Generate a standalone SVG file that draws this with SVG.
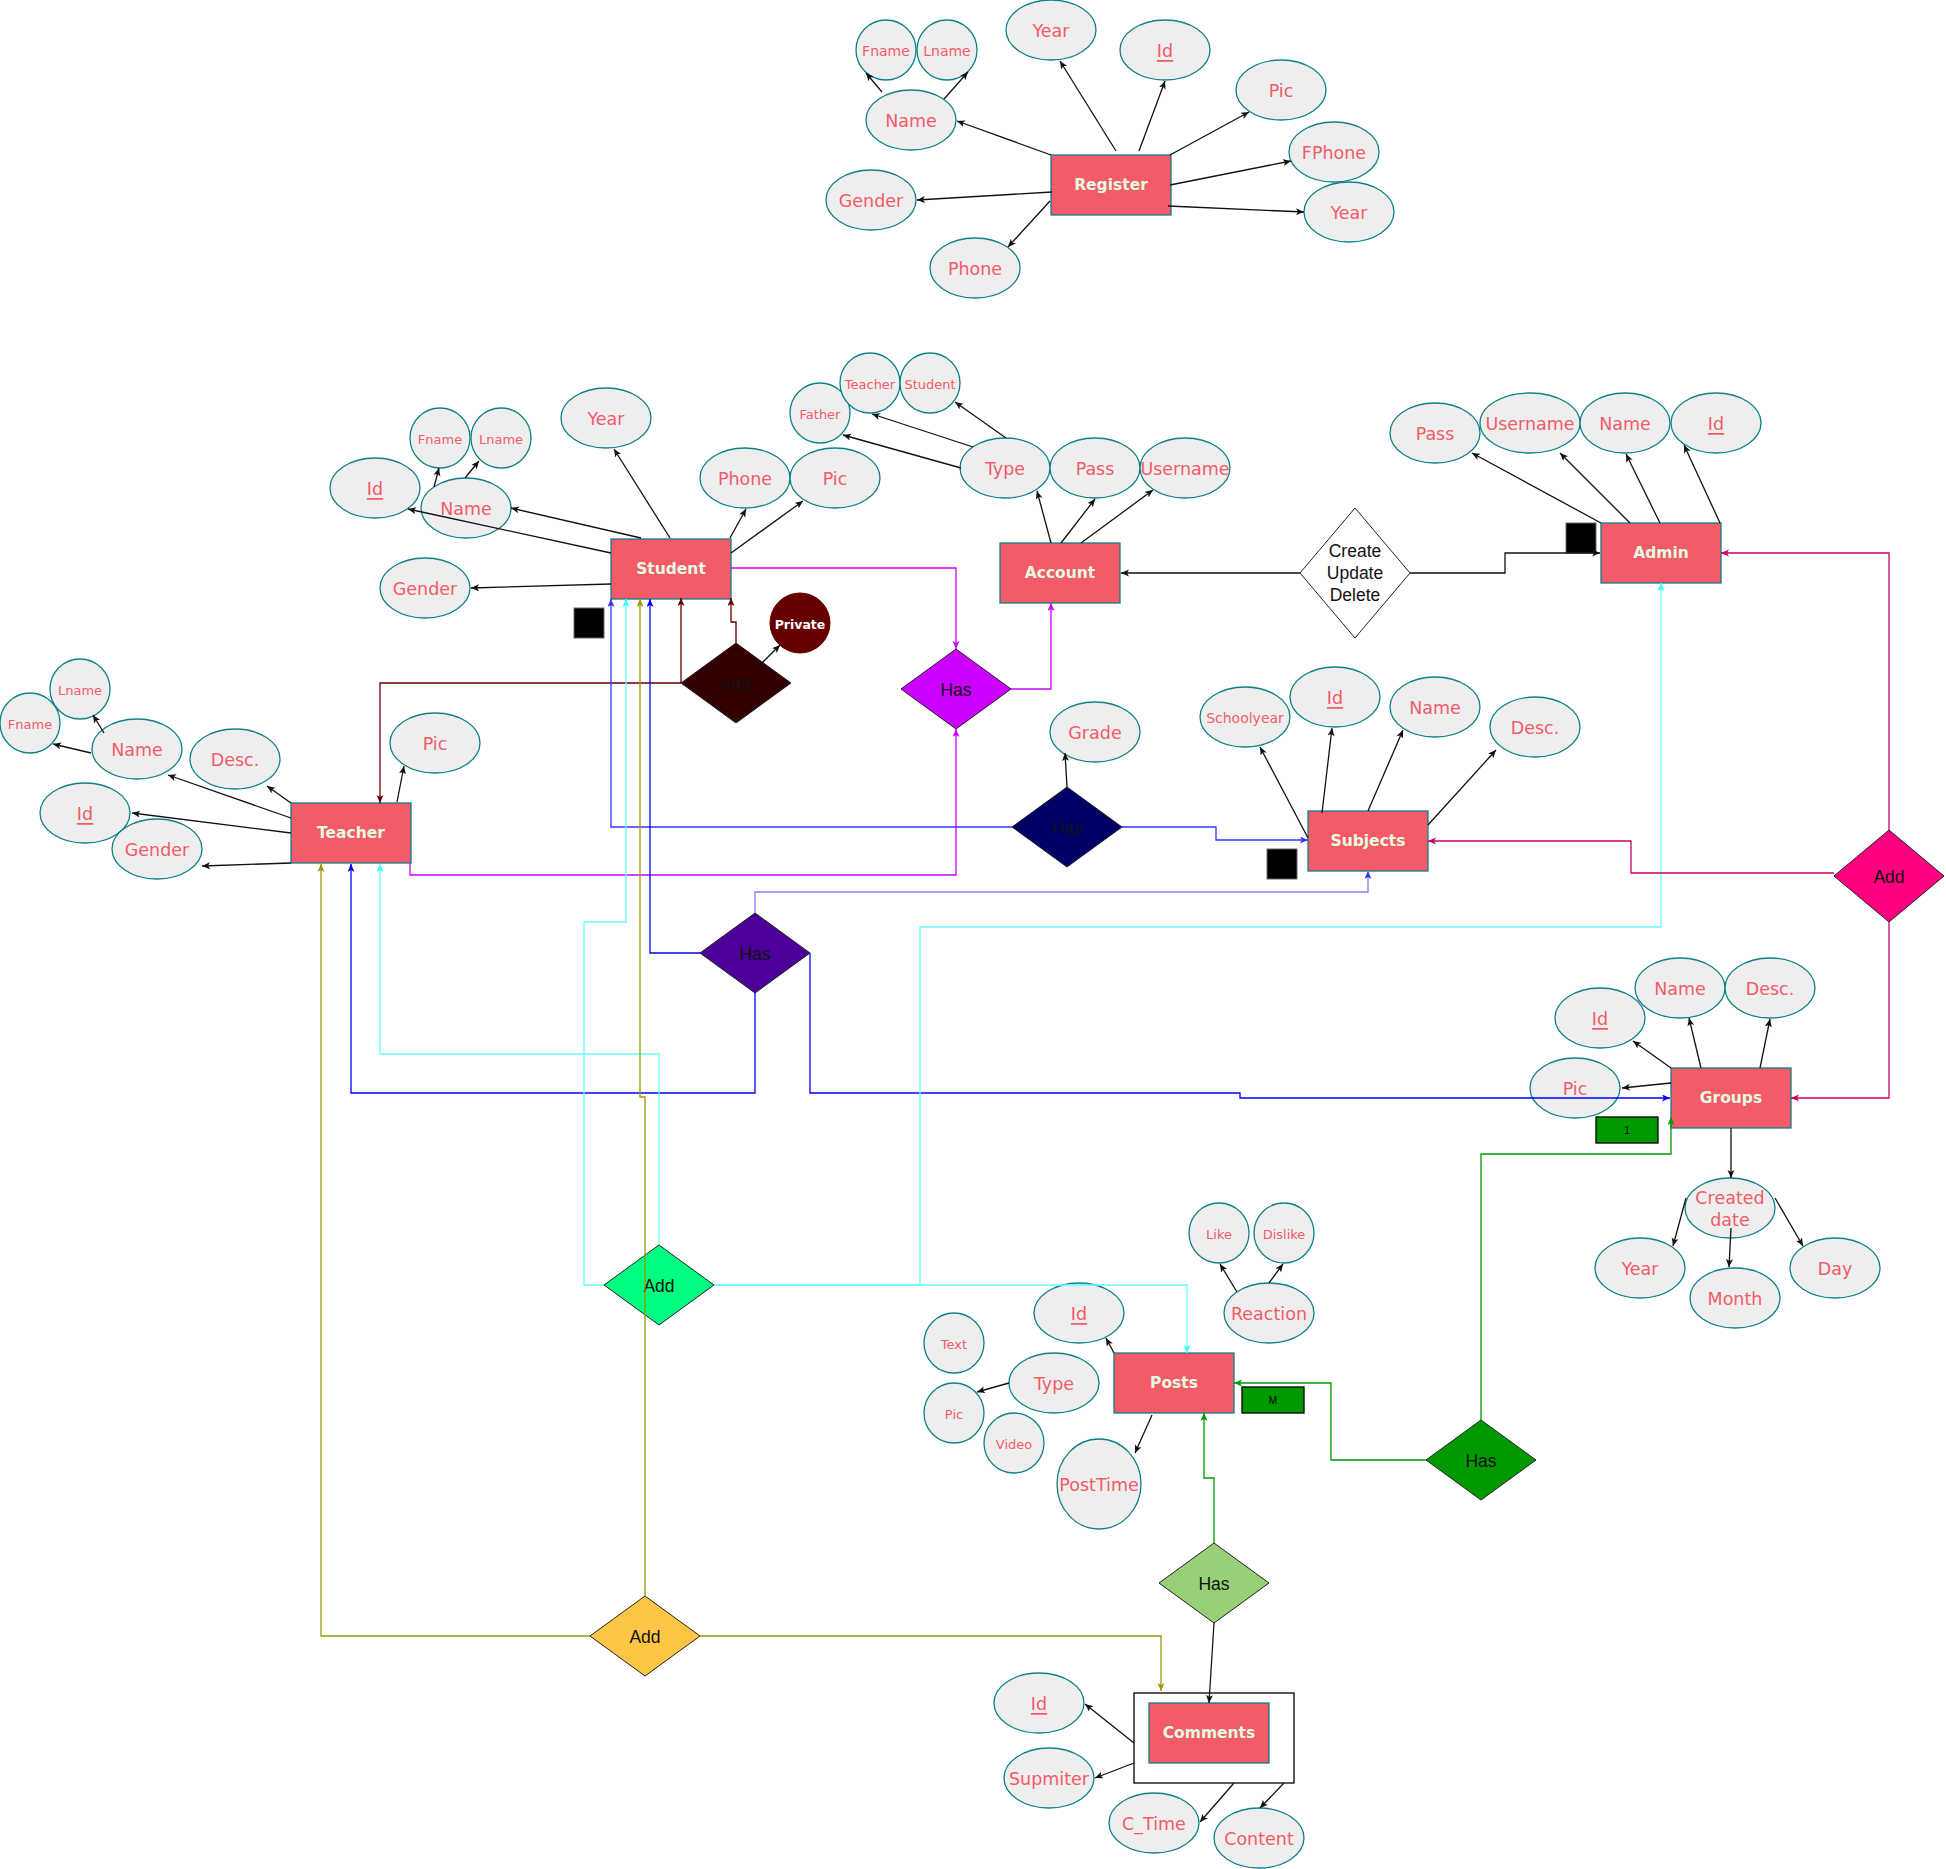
<svg xmlns="http://www.w3.org/2000/svg" width="1946" height="1869" viewBox="0 0 1946 1869">
<style>
.at ellipse{fill:#EEEEEE;stroke:#0E8088;stroke-width:1.3}
.at text{fill:#F45B69;font-family:"DejaVu Sans",Verdana,sans-serif;font-size:17.5px;text-anchor:middle;dominant-baseline:central}
.at text.s{font-size:14px}
.at text.xs{font-size:13px}
.at text.u{text-decoration:underline}
.en rect{fill:#F45B69;stroke:#0E8088;stroke-width:1.3}
.en text{fill:#E4FDE1;font-family:"DejaVu Sans",Verdana,sans-serif;font-size:15.5px;font-weight:bold;text-anchor:middle;dominant-baseline:central}
.rel polygon{stroke:#222;stroke-width:1}
.rel text{fill:#111;font-family:"Liberation Sans",Arial,sans-serif;font-size:17.5px;text-anchor:middle;dominant-baseline:central}
.sq{fill:#000;stroke:#666;stroke-width:1}
.lbl rect{fill:#009900;stroke:#000;stroke-width:1.3}
.lbl text{fill:#000;font-family:"Liberation Sans",Arial,sans-serif;font-size:10px;text-anchor:middle;dominant-baseline:central}
.cn path{fill:none;stroke-width:1.3}
.k{stroke:#111}
.mg{stroke:#CC00FF}
.mr{stroke:#660000}
.b3{stroke:#3333FF}
.b0{stroke:#0000FF}
.bl{stroke:#8080FF;stroke-width:2}
.cy{stroke:#66FFFF}
.ol{stroke:#999900}
.pk{stroke:#CC0066}
.gr{stroke:#009900}
</style>
<defs>
<marker id="aK" markerUnits="userSpaceOnUse" markerWidth="9" markerHeight="8" refX="8" refY="3.5" orient="auto"><path d="M0,0 L8,3.5 L0,7 L2,3.5 Z" fill="#111"/></marker>
<marker id="aMg" markerUnits="userSpaceOnUse" markerWidth="9" markerHeight="8" refX="8" refY="3.5" orient="auto"><path d="M0,0 L8,3.5 L0,7 L2,3.5 Z" fill="#CC00FF"/></marker>
<marker id="aMr" markerUnits="userSpaceOnUse" markerWidth="9" markerHeight="8" refX="8" refY="3.5" orient="auto"><path d="M0,0 L8,3.5 L0,7 L2,3.5 Z" fill="#660000"/></marker>
<marker id="aB3" markerUnits="userSpaceOnUse" markerWidth="9" markerHeight="8" refX="8" refY="3.5" orient="auto"><path d="M0,0 L8,3.5 L0,7 L2,3.5 Z" fill="#3333FF"/></marker>
<marker id="aB0" markerUnits="userSpaceOnUse" markerWidth="9" markerHeight="8" refX="8" refY="3.5" orient="auto"><path d="M0,0 L8,3.5 L0,7 L2,3.5 Z" fill="#0000FF"/></marker>
<marker id="aBl" markerUnits="userSpaceOnUse" markerWidth="9" markerHeight="8" refX="8" refY="3.5" orient="auto"><path d="M0,0 L8,3.5 L0,7 L2,3.5 Z" fill="#3333FF"/></marker>
<marker id="aCy" markerUnits="userSpaceOnUse" markerWidth="9" markerHeight="8" refX="8" refY="3.5" orient="auto"><path d="M0,0 L8,3.5 L0,7 L2,3.5 Z" fill="#33FFFF"/></marker>
<marker id="aOl" markerUnits="userSpaceOnUse" markerWidth="9" markerHeight="8" refX="8" refY="3.5" orient="auto"><path d="M0,0 L8,3.5 L0,7 L2,3.5 Z" fill="#999900"/></marker>
<marker id="aPk" markerUnits="userSpaceOnUse" markerWidth="9" markerHeight="8" refX="8" refY="3.5" orient="auto"><path d="M0,0 L8,3.5 L0,7 L2,3.5 Z" fill="#CC0066"/></marker>
<marker id="aGr" markerUnits="userSpaceOnUse" markerWidth="9" markerHeight="8" refX="8" refY="3.5" orient="auto"><path d="M0,0 L8,3.5 L0,7 L2,3.5 Z" fill="#009900"/></marker>
</defs>
<rect width="1946" height="1869" fill="#FFFFFF"/>

<!-- Entities -->
<g id="register" class="en"><rect x="1051" y="155" width="120" height="60"/><text x="1111" y="185">Register</text></g>
<g id="student" class="en"><rect x="611" y="539" width="120" height="60"/><text x="671" y="569">Student</text></g>
<g id="account" class="en"><rect x="1000" y="543" width="120" height="60"/><text x="1060" y="573">Account</text></g>
<g id="admin" class="en"><rect x="1601" y="523" width="120" height="60"/><text x="1661" y="553">Admin</text></g>
<g id="teacher" class="en"><rect x="291" y="803" width="120" height="60"/><text x="351" y="833">Teacher</text></g>
<g id="subjects" class="en"><rect x="1308" y="811" width="120" height="60"/><text x="1368" y="841">Subjects</text></g>
<g id="groups" class="en"><rect x="1671" y="1068" width="120" height="60"/><text x="1731" y="1098">Groups</text></g>
<g id="posts" class="en"><rect x="1114" y="1353" width="120" height="60"/><text x="1174" y="1383">Posts</text></g>
<g id="comments" class="en"><rect x="1134" y="1693" width="160" height="90" style="fill:#FFFFFF;stroke:#000"/><rect x="1149" y="1703" width="120" height="60"/><text x="1209" y="1733">Comments</text></g>

<!-- Register attributes -->
<g id="reg-fname" class="at"><ellipse cx="886" cy="50" rx="30" ry="30"/><text class="s" x="886" y="51">Fname</text></g>
<g id="reg-lname" class="at"><ellipse cx="947" cy="50" rx="30" ry="30"/><text class="s" x="947" y="51">Lname</text></g>
<g id="reg-year" class="at"><ellipse cx="1051" cy="30" rx="45" ry="30"/><text x="1051" y="31">Year</text></g>
<g id="reg-id" class="at"><ellipse cx="1165" cy="50" rx="45" ry="30"/><text class="u" x="1165" y="51">Id</text></g>
<g id="reg-pic" class="at"><ellipse cx="1281" cy="90" rx="45" ry="30"/><text x="1281" y="91">Pic</text></g>
<g id="reg-fphone" class="at"><ellipse cx="1334" cy="152" rx="45" ry="30"/><text x="1334" y="153">FPhone</text></g>
<g id="reg-year2" class="at"><ellipse cx="1349" cy="212" rx="45" ry="30"/><text x="1349" y="213">Year</text></g>
<g id="reg-name" class="at"><ellipse cx="911" cy="120" rx="45" ry="30"/><text x="911" y="121">Name</text></g>
<g id="reg-gender" class="at"><ellipse cx="871" cy="200" rx="45" ry="30"/><text x="871" y="201">Gender</text></g>
<g id="reg-phone" class="at"><ellipse cx="975" cy="268" rx="45" ry="30"/><text x="975" y="269">Phone</text></g>

<!-- Student attributes -->
<g id="stu-id" class="at"><ellipse cx="375" cy="488" rx="45" ry="30"/><text class="u" x="375" y="489">Id</text></g>
<g id="stu-name" class="at"><ellipse cx="466" cy="508" rx="45" ry="30"/><text x="466" y="509">Name</text></g>
<g id="stu-fname" class="at"><ellipse cx="440" cy="438" rx="30" ry="30"/><text class="xs" x="440" y="439">Fname</text></g>
<g id="stu-lname" class="at"><ellipse cx="501" cy="438" rx="30" ry="30"/><text class="xs" x="501" y="439">Lname</text></g>
<g id="stu-year" class="at"><ellipse cx="606" cy="418" rx="45" ry="30"/><text x="606" y="419">Year</text></g>
<g id="stu-phone" class="at"><ellipse cx="745" cy="478" rx="45" ry="30"/><text x="745" y="479">Phone</text></g>
<g id="stu-pic" class="at"><ellipse cx="835" cy="478" rx="45" ry="30"/><text x="835" y="479">Pic</text></g>
<g id="stu-gender" class="at"><ellipse cx="425" cy="588" rx="45" ry="30"/><text x="425" y="589">Gender</text></g>

<!-- Account attributes -->
<g id="acc-father" class="at"><ellipse cx="820" cy="413" rx="30" ry="30"/><text class="xs" x="820" y="414">Father</text></g>
<g id="acc-teacher" class="at"><ellipse cx="870" cy="383" rx="30" ry="30"/><text class="xs" x="870" y="384">Teacher</text></g>
<g id="acc-student" class="at"><ellipse cx="930" cy="383" rx="30" ry="30"/><text class="xs" x="930" y="384">Student</text></g>
<g id="acc-type" class="at"><ellipse cx="1005" cy="468" rx="45" ry="30"/><text x="1005" y="469">Type</text></g>
<g id="acc-pass" class="at"><ellipse cx="1095" cy="468" rx="45" ry="30"/><text x="1095" y="469">Pass</text></g>
<g id="acc-username" class="at"><ellipse cx="1185" cy="468" rx="45" ry="30"/><text x="1185" y="469">Username</text></g>

<!-- Admin attributes -->
<g id="adm-pass" class="at"><ellipse cx="1435" cy="433" rx="45" ry="30"/><text x="1435" y="434">Pass</text></g>
<g id="adm-username" class="at"><ellipse cx="1530" cy="423" rx="50" ry="30"/><text x="1530" y="424">Username</text></g>
<g id="adm-name" class="at"><ellipse cx="1625" cy="423" rx="45" ry="30"/><text x="1625" y="424">Name</text></g>
<g id="adm-id" class="at"><ellipse cx="1716" cy="423" rx="45" ry="30"/><text class="u" x="1716" y="424">Id</text></g>

<!-- Teacher attributes -->
<g id="tea-lname" class="at"><ellipse cx="80" cy="689" rx="30" ry="30"/><text class="xs" x="80" y="690">Lname</text></g>
<g id="tea-fname" class="at"><ellipse cx="30" cy="723" rx="30" ry="30"/><text class="xs" x="30" y="724">Fname</text></g>
<g id="tea-name" class="at"><ellipse cx="137" cy="749" rx="45" ry="30"/><text x="137" y="750">Name</text></g>
<g id="tea-desc" class="at"><ellipse cx="235" cy="759" rx="45" ry="30"/><text x="235" y="760">Desc.</text></g>
<g id="tea-pic" class="at"><ellipse cx="435" cy="743" rx="45" ry="30"/><text x="435" y="744">Pic</text></g>
<g id="tea-id" class="at"><ellipse cx="85" cy="813" rx="45" ry="30"/><text class="u" x="85" y="814">Id</text></g>
<g id="tea-gender" class="at"><ellipse cx="157" cy="849" rx="45" ry="30"/><text x="157" y="850">Gender</text></g>

<!-- Subjects attributes -->
<g id="sub-schoolyear" class="at"><ellipse cx="1245" cy="717" rx="45" ry="30"/><text class="s" x="1245" y="718">Schoolyear</text></g>
<g id="sub-id" class="at"><ellipse cx="1335" cy="697" rx="45" ry="30"/><text class="u" x="1335" y="698">Id</text></g>
<g id="sub-name" class="at"><ellipse cx="1435" cy="707" rx="45" ry="30"/><text x="1435" y="708">Name</text></g>
<g id="sub-desc" class="at"><ellipse cx="1535" cy="727" rx="45" ry="30"/><text x="1535" y="728">Desc.</text></g>
<g id="grade" class="at"><ellipse cx="1095" cy="732" rx="45" ry="30"/><text x="1095" y="733">Grade</text></g>

<!-- Groups attributes -->
<g id="grp-name" class="at"><ellipse cx="1680" cy="988" rx="45" ry="30"/><text x="1680" y="989">Name</text></g>
<g id="grp-desc" class="at"><ellipse cx="1770" cy="988" rx="45" ry="30"/><text x="1770" y="989">Desc.</text></g>
<g id="grp-id" class="at"><ellipse cx="1600" cy="1018" rx="45" ry="30"/><text class="u" x="1600" y="1019">Id</text></g>
<g id="grp-pic" class="at"><ellipse cx="1575" cy="1088" rx="45" ry="30"/><text x="1575" y="1089">Pic</text></g>
<g id="grp-created" class="at"><ellipse cx="1730" cy="1208" rx="45" ry="30"/><text x="1730" y="1198">Created</text><text x="1730" y="1220">date</text></g>
<g id="grp-year" class="at"><ellipse cx="1640" cy="1268" rx="45" ry="30"/><text x="1640" y="1269">Year</text></g>
<g id="grp-month" class="at"><ellipse cx="1735" cy="1298" rx="45" ry="30"/><text x="1735" y="1299">Month</text></g>
<g id="grp-day" class="at"><ellipse cx="1835" cy="1268" rx="45" ry="30"/><text x="1835" y="1269">Day</text></g>

<!-- Posts attributes -->
<g id="pst-like" class="at"><ellipse cx="1219" cy="1233" rx="30" ry="30"/><text class="xs" x="1219" y="1234">Like</text></g>
<g id="pst-dislike" class="at"><ellipse cx="1284" cy="1233" rx="30" ry="30"/><text class="xs" x="1284" y="1234">Dislike</text></g>
<g id="pst-reaction" class="at"><ellipse cx="1269" cy="1313" rx="45" ry="30"/><text x="1269" y="1314">Reaction</text></g>
<g id="pst-id" class="at"><ellipse cx="1079" cy="1313" rx="45" ry="30"/><text class="u" x="1079" y="1314">Id</text></g>
<g id="pst-text" class="at"><ellipse cx="954" cy="1343" rx="30" ry="30"/><text class="xs" x="954" y="1344">Text</text></g>
<g id="pst-type" class="at"><ellipse cx="1054" cy="1383" rx="45" ry="30"/><text x="1054" y="1384">Type</text></g>
<g id="pst-pic" class="at"><ellipse cx="954" cy="1413" rx="30" ry="30"/><text class="xs" x="954" y="1414">Pic</text></g>
<g id="pst-video" class="at"><ellipse cx="1014" cy="1443" rx="30" ry="30"/><text class="xs" x="1014" y="1444">Video</text></g>
<g id="pst-posttime" class="at"><ellipse cx="1099" cy="1484" rx="42" ry="45"/><text x="1099" y="1485">PostTime</text></g>

<!-- Comments attributes -->
<g id="com-id" class="at"><ellipse cx="1039" cy="1703" rx="45" ry="30"/><text class="u" x="1039" y="1704">Id</text></g>
<g id="com-supmiter" class="at"><ellipse cx="1049" cy="1778" rx="45" ry="30"/><text x="1049" y="1779">Supmiter</text></g>
<g id="com-ctime" class="at"><ellipse cx="1154" cy="1823" rx="45" ry="30"/><text x="1154" y="1824">C_Time</text></g>
<g id="com-content" class="at"><ellipse cx="1259" cy="1838" rx="45" ry="30"/><text x="1259" y="1839">Content</text></g>

<!-- Relationships -->
<g id="rel-cud" class="rel"><polygon points="1300,573 1355,508 1410,573 1355,638" fill="#FFFFFF"/><text x="1355" y="551">Create</text><text x="1355" y="573">Update</text><text x="1355" y="595">Delete</text></g>
<g id="rel-add-dark" class="rel"><polygon points="681,683 736,643 791,683 736,723" fill="#330000"/><text x="736" y="684">Add</text></g>
<g id="rel-has-magenta" class="rel"><polygon points="901,689 956,649 1011,689 956,729" fill="#CC00FF"/><text x="956" y="690">Has</text></g>
<g id="rel-has-navy" class="rel"><polygon points="1012,827 1067,787 1122,827 1067,867" fill="#000066"/><text x="1067" y="828">Has</text></g>
<g id="rel-has-indigo" class="rel"><polygon points="700,953 755,913 810,953 755,993" fill="#4C0099"/><text x="755" y="954">Has</text></g>
<g id="rel-add-pink" class="rel"><polygon points="1834,876 1889,830 1944,876 1889,922" fill="#FF0080"/><text x="1889" y="877">Add</text></g>
<g id="rel-add-green" class="rel"><polygon points="604,1285 659,1245 714,1285 659,1325" fill="#00FF80"/><text x="659" y="1286">Add</text></g>
<g id="rel-has-green" class="rel"><polygon points="1426,1460 1481,1420 1536,1460 1481,1500" fill="#009900"/><text x="1481" y="1461">Has</text></g>
<g id="rel-has-light" class="rel"><polygon points="1159,1583 1214,1543 1269,1583 1214,1623" fill="#97D077"/><text x="1214" y="1584">Has</text></g>
<g id="rel-add-yellow" class="rel"><polygon points="590,1636 645,1596 700,1636 645,1676" fill="#FFC545"/><text x="645" y="1637">Add</text></g>

<g id="private"><circle cx="800" cy="623" r="30" fill="#660000" stroke="#660000"/><text x="800" y="624" fill="#FFFFFF" font-family="DejaVu Sans, Verdana, sans-serif" font-size="12.5" font-weight="bold" text-anchor="middle" dominant-baseline="central">Private</text></g>

<g id="marks">
<rect class="sq" x="574" y="608" width="30" height="30"/>
<rect class="sq" x="1566" y="523" width="30" height="30"/>
<rect class="sq" x="1267" y="849" width="30" height="30"/>
</g>
<g id="label-1" class="lbl"><rect x="1596" y="1117" width="62" height="26"/><text x="1627" y="1130">1</text></g>
<g id="label-m" class="lbl"><rect x="1242" y="1387" width="62" height="26"/><text x="1273" y="1400">M</text></g>

<!-- Connectors -->
<g id="connectors" class="cn">
<g marker-end="url(#aK)">
<path class="k" d="M1051,155 L957,121"/>
<path class="k" d="M1116,151 L1060,61"/>
<path class="k" d="M1139,151 L1165,81"/>
<path class="k" d="M1170,155 L1249,112"/>
<path class="k" d="M1170,185 L1291,161"/>
<path class="k" d="M1168,206 L1304,212"/>
<path class="k" d="M1052,192 L917,200"/>
<path class="k" d="M1050,201 L1008,247"/>
<path class="k" d="M882,92 L866,73"/>
<path class="k" d="M944,99 L968,72"/>
<path class="k" d="M611,553 L408,509"/>
<path class="k" d="M641,538 L511,508"/>
<path class="k" d="M670,538 L614,449"/>
<path class="k" d="M730,538 L746,509"/>
<path class="k" d="M731,553 L803,501"/>
<path class="k" d="M611,584 L471,588"/>
<path class="k" d="M434,487 L439,468"/>
<path class="k" d="M465,478 L479,461"/>
<path class="k" d="M1051,543 L1037,491"/>
<path class="k" d="M1061,543 L1095,499"/>
<path class="k" d="M1081,543 L1153,490"/>
<path class="k" d="M1006,438 L955,402"/>
<path class="k" d="M973,447 L872,414"/>
<path class="k" d="M961,468 L843,435"/>
<path class="k" d="M1601,523 L1472,453"/>
<path class="k" d="M1630,523 L1560,453"/>
<path class="k" d="M1660,523 L1626,454"/>
<path class="k" d="M1720,523 L1684,445"/>
<path class="k" d="M291,818 L168,775"/>
<path class="k" d="M291,803 L267,786"/>
<path class="k" d="M397,802 L404,766"/>
<path class="k" d="M291,833 L132,813"/>
<path class="k" d="M291,863 L202,866"/>
<path class="k" d="M91,753 L53,744"/>
<path class="k" d="M104,733 L93,715"/>
<path class="k" d="M1308,838 L1260,747"/>
<path class="k" d="M1322,813 L1332,728"/>
<path class="k" d="M1368,811 L1403,730"/>
<path class="k" d="M1428,825 L1496,750"/>
<path class="k" d="M1067,787 L1065,753"/>
<path class="k" d="M1671,1068 L1633,1041"/>
<path class="k" d="M1701,1068 L1689,1018"/>
<path class="k" d="M1760,1068 L1770,1019"/>
<path class="k" d="M1671,1083 L1622,1088"/>
<path class="k" d="M1731,1128 L1731,1178"/>
<path class="k" d="M1686,1198 L1673,1246"/>
<path class="k" d="M1731,1228 L1729,1267"/>
<path class="k" d="M1775,1198 L1803,1246"/>
<path class="k" d="M1114,1353 L1106,1338"/>
<path class="k" d="M1009,1383 L977,1392"/>
<path class="k" d="M1152,1415 L1135,1453"/>
<path class="k" d="M1237,1292 L1220,1264"/>
<path class="k" d="M1269,1283 L1283,1264"/>
<path class="k" d="M1134,1743 L1085,1704"/>
<path class="k" d="M1134,1763 L1095,1778"/>
<path class="k" d="M1234,1783 L1200,1822"/>
<path class="k" d="M1284,1783 L1260,1808"/>
<path class="k" d="M1214,1623 L1209,1703"/>
<path class="k" d="M1300,573 L1121,573"/>
<path class="k" d="M1410,573 H1505 V553 H1600"/>
<path class="k" d="M762,663 L780,645"/>
</g>
<path class="mg" marker-end="url(#aMg)" d="M731,568 H956 V649"/>
<path class="mg" marker-end="url(#aMg)" d="M1011,689 H1051 V603"/>
<path class="mg" marker-end="url(#aMg)" d="M410,863 V875 H956 V729"/>
<path class="mr" marker-end="url(#aMr)" d="M681,683 V598"/>
<path class="mr" marker-end="url(#aMr)" d="M681,683 H380 V803"/>
<path class="mr" marker-end="url(#aMr)" d="M736,643 V622 H731 V598"/>
<path class="b3" marker-end="url(#aB3)" d="M1012,827 H611 V599"/>
<path class="b3" marker-end="url(#aB3)" d="M1122,827 H1216 V840 H1308"/>
<path class="b0" marker-end="url(#aB0)" d="M700,953 H650 V599"/>
<path class="b0" marker-end="url(#aB0)" d="M755,993 V1093 H351 V864"/>
<path class="b0" marker-end="url(#aB0)" d="M810,953 V1093 H1240 V1098 H1670"/>
<path class="bl" marker-end="url(#aBl)" d="M755,913 V892 H1368 V871"/>
<path class="cy" marker-end="url(#aCy)" d="M604,1285 H584 V922 H626 V599"/>
<path class="cy" marker-end="url(#aCy)" d="M659,1245 V1054 H380 V864"/>
<path class="cy" marker-end="url(#aCy)" d="M714,1285 H1187 V1353"/>
<path class="cy" marker-end="url(#aCy)" d="M714,1285 H920 V927 H1661 V583"/>
<path class="ol" marker-end="url(#aOl)" d="M645,1596 V1097 H640 V599"/>
<path class="ol" marker-end="url(#aOl)" d="M590,1636 H321 V864"/>
<path class="ol" marker-end="url(#aOl)" d="M700,1636 H1161 V1691"/>
<path class="pk" marker-end="url(#aPk)" d="M1889,830 V553 H1721"/>
<path class="pk" marker-end="url(#aPk)" d="M1834,873 H1631 V841 H1428"/>
<path class="pk" marker-end="url(#aPk)" d="M1889,922 V1098 H1791"/>
<path class="gr" marker-end="url(#aGr)" d="M1481,1420 V1154 H1671 V1117"/>
<path class="gr" marker-end="url(#aGr)" d="M1426,1460 H1331 V1383 H1234"/>
<path class="gr" marker-end="url(#aGr)" d="M1214,1543 V1478 H1204 V1413"/>
</g>
</svg>
